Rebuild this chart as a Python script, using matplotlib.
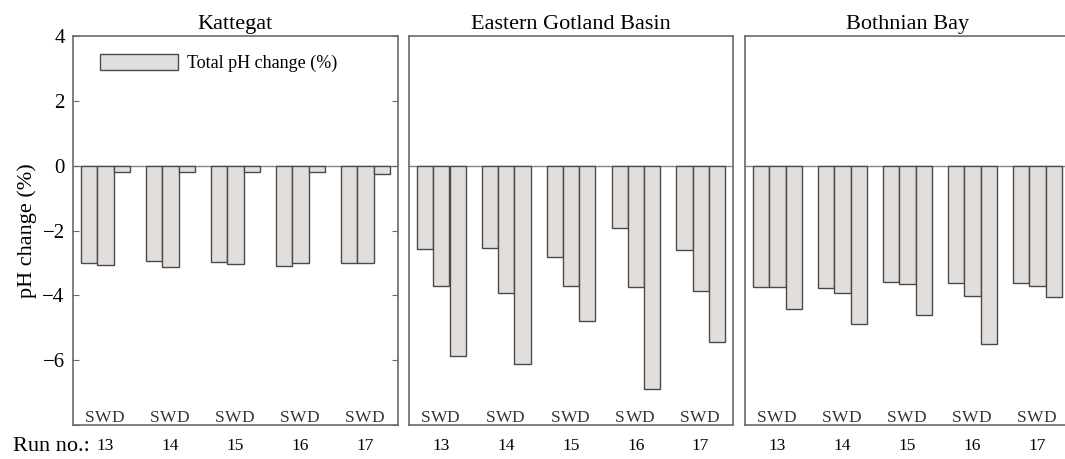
import numpy as np
import matplotlib.pyplot as plt

plt.rcParams['font.family'] = ['Liberation Serif', 'DejaVu Serif']

# Data (pH change, %)
runs = ['13', '14', '15', '16', '17']
regions = ['Kattegat', 'Eastern Gotland Basin', 'Bothnian Bay']
letters = ['S', 'W', 'D']

kattegat_S = [-3.00, -2.93, -2.97, -3.10, -3.01]
kattegat_W = [-3.06, -3.14, -3.03, -3.00, -3.00]
kattegat_D = [-0.20, -0.20, -0.20, -0.20, -0.25]

gotland_S = [-2.56, -2.53, -2.81, -1.91, -2.59]
gotland_W = [-3.71, -3.93, -3.72, -3.75, -3.87]
gotland_D = [-5.86, -6.11, -4.80, -6.88, -5.45]

bothnian_S = [-3.75, -3.78, -3.58, -3.62, -3.62]
bothnian_W = [-3.75, -3.93, -3.66, -4.01, -3.70]
bothnian_D = [-4.43, -4.89, -4.60, -5.50, -4.05]

series = [
    (kattegat_S, kattegat_W, kattegat_D),
    (gotland_S, gotland_W, gotland_D),
    (bothnian_S, bothnian_W, bothnian_D),
]

W, H = 1065, 459
fig = plt.figure(figsize=(W / 100, H / 100), dpi=100)

# panel extents in pixels (left, right)
panels = [(73, 398), (409, 733), (745, 1070)]
top, bottom = 36, 425

fill = '#e2dedc'
edge = '#4a4a4a'
spine = '#6a6a6a'
width = 0.25
x = np.arange(len(runs))

for i, ((l, r), name, vals) in enumerate(zip(panels, regions, series)):
    ax = fig.add_axes([l / W, 1 - bottom / H, (r - l) / W, (bottom - top) / H])
    for j, v in enumerate(vals):
        ax.bar(x + (j - 1) * width, v, width, color=fill, edgecolor=edge,
               linewidth=1.0, label='Total pH change (%)' if j == 0 else None,
               zorder=2)
        for k in range(len(runs)):
            ax.text(x[k] + (j - 1) * width * 0.85 - 0.03, -7.92, letters[j],
                    ha='center', va='baseline', fontsize=12.5, color='#333333')
    ax.axhline(0, color='#888888', lw=1.0, zorder=1)
    ax.set_xlim(-0.5, 4.5)
    ax.set_ylim(-8, 4)
    ax.set_title(name, fontsize=16, pad=5)
    ax.set_xticks(x)
    ax.set_xticklabels(runs, fontsize=12.5)
    ax.tick_params(axis='x', length=0, pad=9)
    for s in ax.spines.values():
        s.set_color(spine)
        s.set_linewidth(1.2)
    if i == 0:
        ax.set_yticks([-8, -6, -4, -2, 0, 2, 4])
        ax.set_yticklabels(['', '\u22126', '\u22124', '\u22122', '0', '2', '4'],
                           fontsize=15)
        ax.tick_params(axis='y', direction='in', length=4, right=True,
                       color=spine, pad=6)
        ax.set_ylabel('pH change (%)', fontsize=16, labelpad=4)
        ax.legend(loc='upper left', frameon=False, fontsize=13,
                  handlelength=4.3, handleheight=1.0, handletextpad=0.5,
                  bbox_to_anchor=(0.062, 0.972), borderaxespad=0)
        ax.text(-0.185, -0.055, 'Run no.:', transform=ax.transAxes,
                fontsize=16, ha='left', va='center')
    else:
        ax.set_yticks([])

fig.savefig('out.png', dpi=100)
